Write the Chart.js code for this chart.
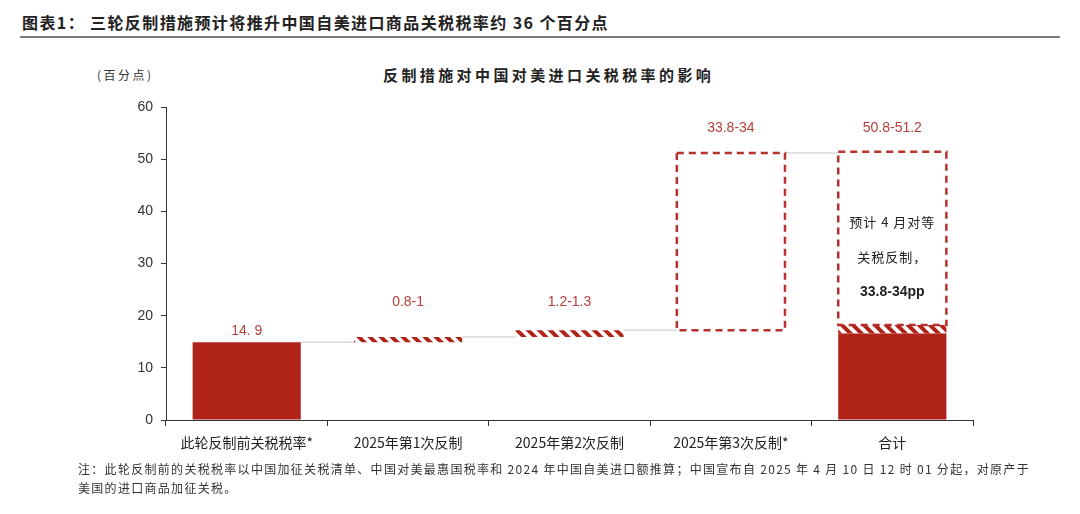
<!DOCTYPE html>
<html>
<head>
<meta charset="utf-8">
<script src="https://cdn.jsdelivr.net/npm/chart.js@4.4.1/dist/chart.umd.min.js"></script>
<style>
body { margin: 0; background: #fff; }
#wrap { position: relative; width: 1080px; height: 514px; overflow: hidden; font-family: "Noto Sans CJK SC", sans-serif; }
#head { position: absolute; left: 22px; top: 10px; font-size: 16px; font-weight: bold; letter-spacing: 1.4px; color: #222; white-space: nowrap; }
#rule { position: absolute; left: 20px; top: 36px; width: 1040px; height: 2px; background: #7a7a7a; }
#ctitle { position: absolute; left: 383px; top: 64px; font-size: 15px; font-weight: bold; letter-spacing: 3.4px; color: #222; white-space: nowrap; }
#unit { position: absolute; left: 97px; top: 66px; font-size: 12px; letter-spacing: 2.5px; color: #333; white-space: nowrap; }
#note { position: absolute; left: 78px; top: 459px; font-size: 12px; letter-spacing: 1.3px; line-height: 19px; color: #333; white-space: nowrap; }
canvas { position: absolute; left: 0; top: 0; }
</style>
</head>
<body>
<div id="wrap">
  <div id="head">图表1： 三轮反制措施预计将推升中国自美进口商品关税税率约 36 个百分点</div>
  <div id="rule"></div>
  <div id="unit">(百分点)</div>
  <div id="ctitle">反制措施对中国对美进口关税税率的影响</div>
  <canvas id="chart" width="1080" height="514"></canvas>
  <div id="note">注：此轮反制前的关税税率以中国加征关税清单、中国对美最惠国税率和 2024 年中国自美进口额推算；中国宣布自 2025 年 4 月 10 日 12 时 01 分起，对原产于<br>美国的进口商品加征关税。</div>
</div>
<script>
// categories and values (floating bars as [low, high])
var categories = ['此轮反制前关税税率*', '2025年第1次反制', '2025年第2次反制', '2025年第3次反制*', '合计'];
var solidBars = [[0, 14.9], null, null, null, [0, 16.6]];
var hatchBars = [null, [14.9, 15.9], [15.9, 17.2], null, [16.6, 18.2]];
var dashBars = [null, null, null, [17.2, 51.2], [18.2, 51.4]];
var rangeLabels = ['14. 9', '0.8-1', '1.2-1.3', '33.8-34', '50.8-51.2'];
var yMax = 60;
var yStep = 10;

var red = '#af2318';
var labelRed = '#b3403a';

// diagonal stripes for the hatched pieces
function stripes() {
  var c = document.createElement('canvas');
  c.width = 11; c.height = 11;
  var g = c.getContext('2d');
  g.fillStyle = '#fff';
  g.fillRect(0, 0, 11, 11);
  g.strokeStyle = red;
  g.lineWidth = 4;
  g.beginPath();
  g.moveTo(-5.5, -5.5); g.lineTo(16.5, 16.5);
  g.moveTo(-16.5, -5.5); g.lineTo(5.5, 16.5);
  g.moveTo(5.5, -5.5); g.lineTo(27.5, 16.5);
  g.stroke();
  return g.createPattern(c, 'repeat');
}

var extras = {
  id: 'extras',
  beforeDatasetsDraw: function(chart) {
    // gray connectors between bar tops
    var ctx = chart.ctx, y = chart.scales.y;
    var tops = [];
    for (var i = 0; i < categories.length; i++) {
      var t = null, el = null;
      [solidBars, hatchBars, dashBars].forEach(function(arr, d) {
        if (arr[i] && (t === null || arr[i][1] >= t)) { t = arr[i][1]; el = chart.getDatasetMeta(d).data[i]; }
      });
      tops.push({ v: t, el: el });
    }
    ctx.save();
    ctx.strokeStyle = '#d9d9d9';
    ctx.lineWidth = 1.5;
    for (var j = 0; j < tops.length - 1; j++) {
      var a = tops[j], b = tops[j + 1];
      var py = y.getPixelForValue(a.v);
      ctx.beginPath();
      ctx.moveTo(a.el.x + a.el.width / 2, py);
      ctx.lineTo(b.el.x - b.el.width / 2, py);
      ctx.stroke();
    }
    ctx.restore();
  },
  afterDatasetsDraw: function(chart) {
    var ctx = chart.ctx, y = chart.scales.y;
    ctx.save();
    // dashed outlines
    var meta = chart.getDatasetMeta(2);
    ctx.strokeStyle = '#b5332c';
    ctx.lineWidth = 2.5;
    ctx.setLineDash([7, 5]);
    meta.data.forEach(function(el, i) {
      if (!dashBars[i]) return;
      ctx.strokeRect(el.x - el.width / 2, el.y, el.width, el.base - el.y);
    });
    ctx.setLineDash([]);

    // value labels
    var labelLevel = [null, 22.6, 22.6, 55.9, 55.9];
    ctx.fillStyle = labelRed;
    ctx.font = '14px "Liberation Sans", Arial, sans-serif';
    ctx.textAlign = 'center';
    ctx.textBaseline = 'middle';
    var xs = chart.getDatasetMeta(0).data;
    rangeLabels.forEach(function(txt, i) {
      var py = labelLevel[i] === null ? y.getPixelForValue(solidBars[i][1]) - 11 : y.getPixelForValue(labelLevel[i]);
      ctx.fillText(txt, xs[i].x, py);
    });

    // note inside the total box
    var cx = xs[4].x;
    ctx.fillStyle = '#222';
    ctx.font = '13px "Noto Sans CJK SC", sans-serif';
    ctx.letterSpacing = '1px';
    ctx.fillText('预计 4 月对等', cx, y.getPixelForValue(37.9));
    ctx.fillText('关税反制，', cx, y.getPixelForValue(31.2));
    ctx.letterSpacing = '0px';
    ctx.font = 'bold 14px "Liberation Sans", Arial, sans-serif';
    ctx.fillText('33.8-34pp', cx, y.getPixelForValue(24.5));
    ctx.restore();
  }
};

var ctx = document.getElementById('chart').getContext('2d');
var chart = new Chart(ctx, {
  type: 'bar',
  data: {
    labels: categories,
    datasets: [{
      data: solidBars,
      backgroundColor: red,
      grouped: false
    }, {
      data: hatchBars,
      backgroundColor: stripes(),
      grouped: false
    }, {
      data: dashBars,
      backgroundColor: 'rgba(255,255,255,0)',
      grouped: false
    }]
  },
  options: {
    responsive: false,
    animation: false,
    devicePixelRatio: 1,
    barPercentage: 0.67,
    categoryPercentage: 1,
    layout: { padding: { left: 120, right: 107, top: 107, bottom: 54 } },
    plugins: { legend: { display: false }, tooltip: { enabled: false } },
    scales: {
      x: {
        grid: { drawOnChartArea: false, tickLength: 6, color: '#333', offset: true },
        border: { color: '#333', width: 1 },
        ticks: { color: '#222', padding: 8, font: { family: '"Noto Sans CJK SC", sans-serif', size: 14 } },
        afterFit: function(s) { s.height = 40; }
      },
      y: {
        min: 0,
        max: yMax,
        grid: { drawOnChartArea: false, tickLength: 5, color: '#333' },
        border: { color: '#333', width: 1 },
        ticks: { stepSize: yStep, color: '#333', padding: 8, font: { family: '"Liberation Sans", Arial, sans-serif', size: 14 } },
        afterFit: function(s) { s.width = 46; }
      }
    }
  },
  plugins: [extras]
});
</script>
</body>
</html>
